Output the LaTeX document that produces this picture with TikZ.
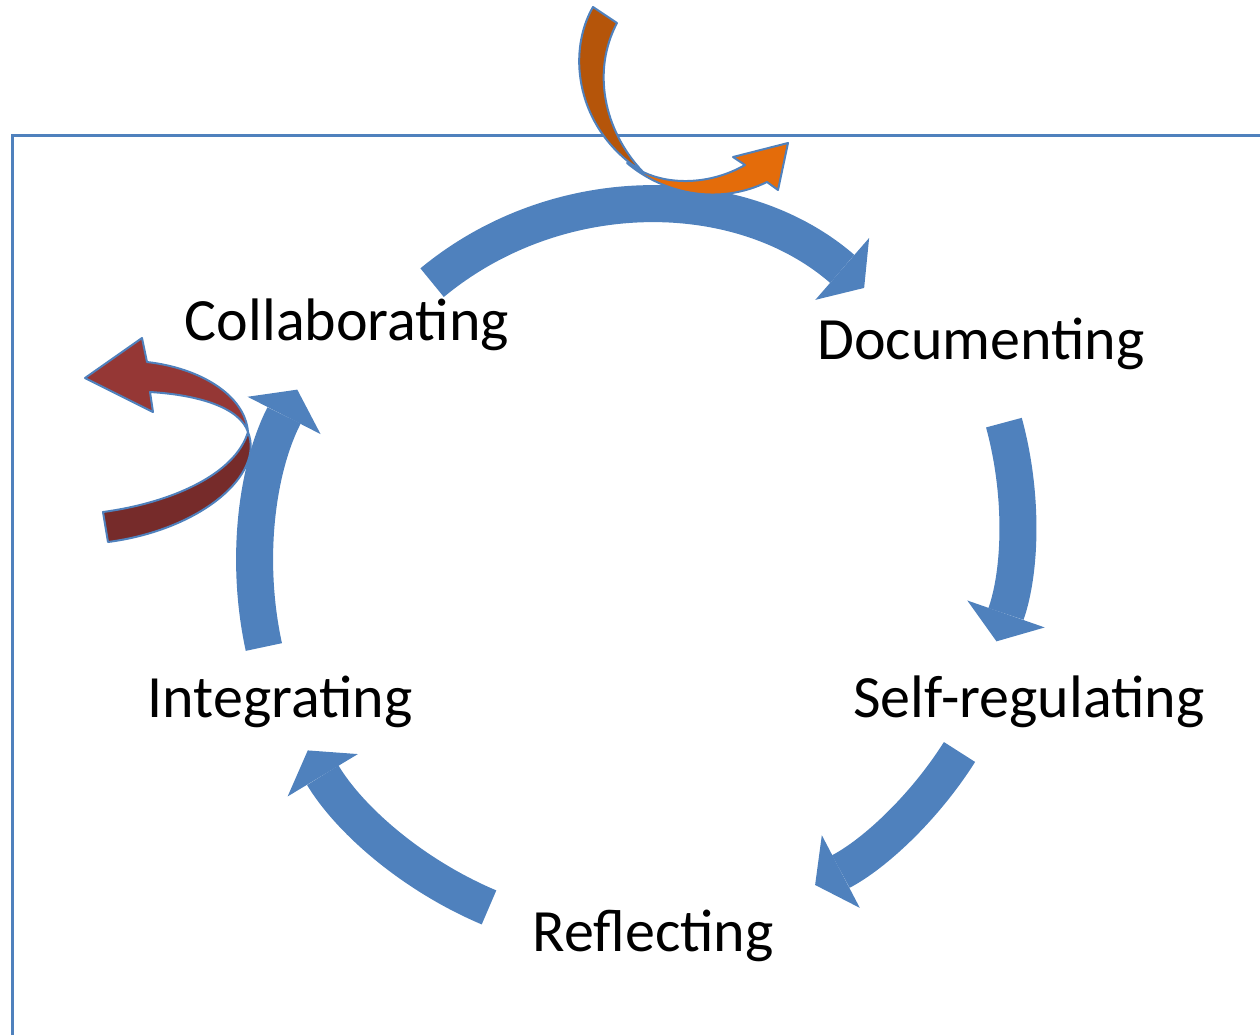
\documentclass[tikz,border=0pt]{standalone}
\usepackage{fontspec}
\setmainfont{Carlito}
\usetikzlibrary{arrows.meta,calc}

\definecolor{cycblue}{RGB}{79,129,189}
\definecolor{orangedark}{RGB}{181,85,10}
\definecolor{orangelight}{RGB}{228,108,10}
\definecolor{reddark}{RGB}{118,43,42}
\definecolor{redlight}{RGB}{149,55,53}

\begin{document}
\begin{tikzpicture}[x=0.5pt,y=-0.5pt,
        stage/.style={anchor=base, inner sep=0pt, font=\fontsize{30}{36}\selectfont},
        cycarrow/.style={draw=cycblue, line width=18.5pt, -{Triangle[length=14.5pt,width=41pt,line width=0pt]}},
        ribbon/.style={draw=cycblue, line width=1pt, line join=round}]
                \useasboundingbox (0,0) rectangle (1260,1035);
                \draw[cycblue, line width=1.5pt] (12,1035) |- (1260,135);

                % arc centres
                \coordinate (c1) at (645,540);
                \coordinate (c2) at (648,520);
                \coordinate (c3) at (640,550);
                \coordinate (c4) at (640,550);
                \coordinate (c5) at (640,565);

                % the cycle
                \draw[cycarrow] ($(c1)+(-129.6:334)$) arc[start angle=-129.6, end angle=-49, radius=334];
                \draw[cycarrow] ($(c2)+(-15.3:369)$) arc[start angle=-15.3, end angle=19.2, radius=369];
                \draw[cycarrow] ($(c3)+(32.3:378)$) arc[start angle=32.3, end angle=62.4, radius=378];
                \draw[cycarrow] ($(c4)+(-247.1:388)$) arc[start angle=-247.1, end angle=-211.1, radius=388];
                \draw[cycarrow] ($(c5)+(-192.3:385)$) arc[start angle=-192.3, end angle=-152.9, radius=385];

                \node[stage] (coll) at (347,340) {Collaborating};
                \node[stage] (docu) at (981,359) {Documenting};
                \node[stage] (selfreg) at (1029,717) {Self-regulating};
                \node[stage] (refl) at (653,951) {Reflecting};
                \node[stage] (integ) at (280,717) {Integrating};

                % orange arrow at the top
                \filldraw[ribbon, fill=orangedark] (593,7) .. controls (568,50) and (575,120) .. (630,163)
                        -- (643,172) .. controls (603,130) and (592,70) .. (617,23) -- cycle;
                \filldraw[ribbon, fill=orangelight] (627,163) .. controls (665,195) and (720,205) .. (767,182)
                        -- (778,190) -- (788,143) -- (733,157) -- (745,165)
                        .. controls (710,185) and (670,185) .. (643,172) -- cycle;

                % red arrow on the left
                \filldraw[ribbon, fill=reddark] (103,512) .. controls (170,503) and (235,475) .. (248,432)
                        .. controls (265,475) and (200,530) .. (108,542) -- cycle;
                \filldraw[ribbon, fill=redlight] (248,432) .. controls (245,395) and (200,368) .. (147,362)
                        -- (142,338) -- (85,378) -- (153,412) -- (150,392)
                        .. controls (200,395) and (240,408) .. (248,432) -- cycle;
\end{tikzpicture}
\end{document}
